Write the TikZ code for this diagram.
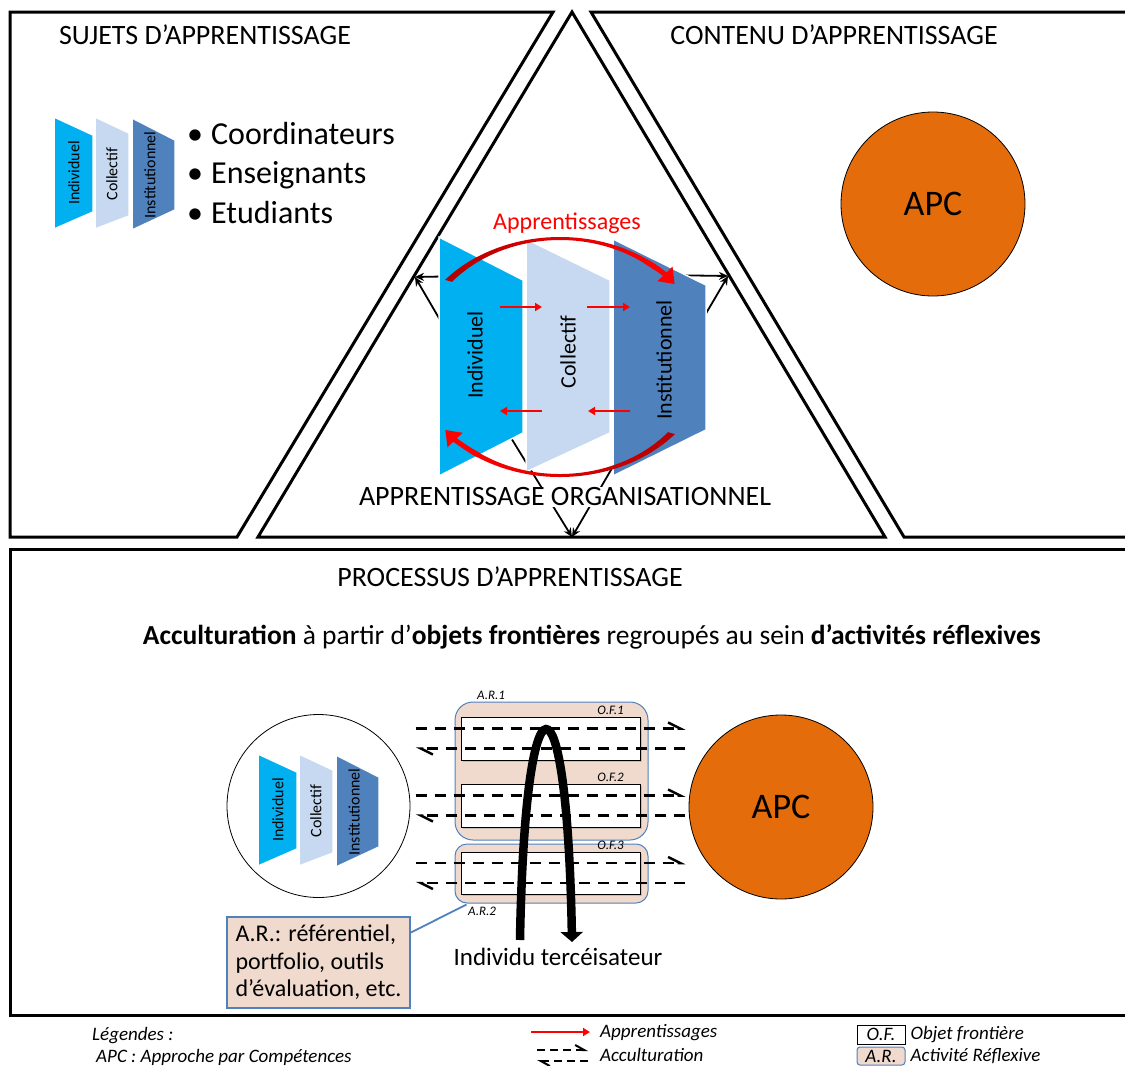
\documentclass[tikz,border=0pt]{standalone}
\usepackage{fontspec}
\setmainfont{Carlito}
\usetikzlibrary{arrows.meta, positioning, calc, shadows}

\definecolor{indivblue}{RGB}{0,176,240}
\definecolor{collblue}{RGB}{198,217,241}
\definecolor{instblue}{RGB}{79,129,189}
\definecolor{apcorange}{RGB}{228,108,10}
\definecolor{arpeach}{RGB}{240,217,205}

\begin{document}
\begin{tikzpicture}[x=1pt, y=-1pt,
    every node/.style={inner sep=1pt},
    panelframe/.style={draw, line width=3pt, line join=miter},
    heading/.style={font=\fontsize{28}{32}\selectfont},
    apc/.style={circle, draw, line width=0.8pt, fill=apcorange, minimum size=184pt,
                font=\fontsize{36}{40}\selectfont},
    tpz/.style={draw=white, line width=1.5pt},
    lvl/.style={rotate=90, font=\fontsize{22}{24}\selectfont},
    lvlsmall/.style={rotate=90, font=\fontsize{16}{18}\selectfont},
    link/.style={-{Stealth[length=9pt, width=8pt]}, line width=1.8pt},
    redarr/.style={red, line width=2pt, -{Triangle[length=7pt, width=8pt]}},
    accul/.style={line width=2.5pt, dash pattern=on 11pt off 8pt,
                  -{Straight Barb[harpoon, length=12pt, width=12pt]}},
    ofbox/.style={draw, fill=white, line width=0.8pt, minimum width=179pt,
                  drop shadow={shadow xshift=1.5pt, shadow yshift=-1.5pt, opacity=0.35}},
    arbox/.style={draw=instblue, line width=1pt, fill=arpeach},
    tag/.style={font=\fontsize{13}{15}\selectfont\itshape, inner sep=0.5pt},
    legendtxt/.style={font=\fontsize{19}{22}\selectfont\itshape, inner sep=0pt},
    levels/.pic={
      \path[tpz, fill=indivblue] (0,0) -- (39,18) -- (39,95) -- (0,112) -- cycle;
      \path[tpz, fill=collblue]  (41,0) -- (75,16) -- (75,99) -- (41,112) -- cycle;
      \path[tpz, fill=instblue]  (78,1) -- (121,23) -- (121,93) -- (78,113) -- cycle;
      \node[lvlsmall] (-ind)  at (20,56) {Individuel};
      \node[lvlsmall] (-coll) at (58,57) {Collectif};
      \node[lvlsmall] (-inst) at (96,58) {Institutionnel};
    }
]
\useasboundingbox (0,0) rectangle (1125,1066);

% frames
\begin{scope}
\clip (0,0) rectangle (1125,1066);
\draw[panelframe] (10,12) -- (553,12) -- (237,537) -- (10,537) -- cycle;
\draw[panelframe] (572,12) -- (885,537) -- (258,537) -- cycle;
\draw[panelframe] (1140,12) -- (591,12) -- (904,537) -- (1140,537);
\draw[panelframe] (1140,549) -- (10,549) -- (10,1015) -- (1140,1015);
\end{scope}

% top left: subjects
\node[heading] (sujT) at (205,35) {SUJETS D’APPRENTISSAGE};
\pic (topLv) at (54,117) {levels};
\node[anchor=west, align=left, font=\fontsize{32}{39.5}\selectfont] (roles) at (186,173)
    {\textbullet\hspace{8pt}Coordinateurs\\\textbullet\hspace{8pt}Enseignants\\\textbullet\hspace{8pt}Etudiants};

% top right: content
\node[heading] (contT) at (834,35) {CONTENU D’APPRENTISSAGE};
\node[apc] (apcT) at (933,204) {APC};

% centre: organisational learning
\coordinate (tL) at (415,277);
\coordinate (tR) at (728,276);
\coordinate (tB) at (572,537);
\draw[link] (470,276) -- (tL);
\draw[link] (457,349) -- (tL);
\draw[link] (660,275) -- (tR);
\draw[link] (691,339) -- (tR);
\draw[link] (500,420) -- (tB);
\draw[link] (640,420) -- (tB);

\path[tpz, fill=indivblue] (439,237) -- (523,280) -- (523,433) -- (439,476) -- cycle;
\path[tpz, fill=collblue]  (526,239) -- (610,280) -- (610,433) -- (526,472) -- cycle;
\path[tpz, fill=instblue]  (613,239) -- (706,285) -- (706,430) -- (613,476) -- cycle;
\node[lvl] (indA)  at (475,355) {Individuel};
\node[lvl] (collA) at (568,352) {Collectif};
\node[lvl] (instA) at (664,360) {Institutionnel};

\draw[redarr] (500,307) -- (542,307);
\draw[redarr] (587,307) -- (630,307);
\draw[redarr] (542,411) -- (500,411);
\draw[redarr] (630,411) -- (588,411);

\shade[left color=red!70!black, right color=red]
    ($(560,357)+(220:150 and 120)$) arc[start angle=220, end angle=312, x radius=150, y radius=120]
    -- ($(560,357)+(312:141 and 117)$) arc[start angle=312, end angle=220, x radius=141, y radius=117] -- cycle;
\draw[red, line width=5pt, -{Triangle[length=14pt, width=20pt]}]
    ($(560,357)+(306:145.5 and 118.5)$) arc[start angle=306, end angle=322, x radius=145.5, y radius=118.5];
\shade[left color=red, right color=red!70!black]
    ($(560,357)+(40:150 and 120)$) arc[start angle=40, end angle=128, x radius=150, y radius=120]
    -- ($(560,357)+(128:141 and 117)$) arc[start angle=128, end angle=40, x radius=141, y radius=117] -- cycle;
\draw[red, line width=5pt, -{Triangle[length=14pt, width=20pt]}]
    ($(560,357)+(124:145.5 and 118.5)$) arc[start angle=124, end angle=142, x radius=145.5, y radius=118.5];
\node[red, font=\fontsize{24}{28}\selectfont] (apprA) at (567,223) {Apprentissages};
\node[heading, fill=white] (orgA) at (565,497) {APPRENTISSAGE ORGANISATIONNEL};

% bottom: learning process
\node[heading] (procT) at (510,577) {PROCESSUS D’APPRENTISSAGE};
\node[font=\fontsize{27.5}{32}\selectfont] (accT) at (592,637)
    {\textbf{Acculturation} à partir d’\textbf{objets frontières} regroupés au sein \textbf{d’activités réflexives}};

\node[circle, draw, line width=0.8pt, minimum size=183pt] (sujB) at (318.5,806) {};
\pic (botLv) at (258,754) {levels};
\node[apc] (apcB) at (781,807) {APC};

\node[arbox, rounded corners=18pt, minimum width=193pt, minimum height=138pt] (ar1) at (551.5,771) {};
\node[arbox, rounded corners=12pt, minimum width=193pt, minimum height=59pt] (ar2) at (551.5,873.5) {};
\node[ofbox, minimum height=43pt] (of1) at (550.5,738.5) {};
\node[ofbox, minimum height=43pt] (of2) at (550.5,805.5) {};
\node[ofbox, minimum height=42pt] (of3) at (550.5,873) {};

\node[tag, anchor=south west] (tar1) at ([shift={(22,-1)}]ar1.north west) {A.R.1};
\node[tag, anchor=north west] (tar2) at ([shift={(13,3)}]ar2.south west) {A.R.2};
\foreach \i in {1,2,3} {
  \node[tag, anchor=south east] (tof\i) at ([shift={(-16,-1)}]of\i.north east) {O.F.\i};
  \draw[accul] ([shift={(-45,-10)}]of\i.west) -- ([shift={(45,-10)}]of\i.east);
  \draw[accul] ([shift={(45,10)}]of\i.east) -- ([shift={(-45,10)}]of\i.west);
}

\coordinate (arcL) at (520,940);
\coordinate (arcR) at (572,942);
\draw[line width=8.5pt, -{Triangle[length=10pt, width=22pt]}] (arcL) .. controls (525,660) and (567,660) .. (arcR);
\node[font=\fontsize{25}{30}\selectfont] (terc) at (558,957) {Individu tercéisateur};

\node[arbox, line width=1.8pt, align=left, font=\fontsize{24}{27.5}\selectfont,
      minimum width=183pt, minimum height=91pt, inner xsep=8pt] (arnote) at (318.5,962.5)
    {A.R.: référentiel,\\portfolio, outils\\d’évaluation, etc.};
\draw[instblue, line width=1.8pt] ([shift={(0,-30)}]arnote.east) -- ([shift={(12,1)}]ar2.south west);

% legend
\node[legendtxt, anchor=west] (lgT) at (92,1036) {Légendes :};
\node[legendtxt, anchor=west] (lgApc) at (96,1057) {APC : Approche par Compétences};
\node[legendtxt, anchor=west] (lgApp) at (600,1033) {Apprentissages};
\draw[redarr] ([shift={(-69,-1)}]lgApp.west) -- ([shift={(-10,-1)}]lgApp.west);
\node[legendtxt, anchor=west] (lgAcc) at (600,1055) {Acculturation};
\draw[accul, line width=2pt, dash pattern=on 8pt off 5pt, -{Straight Barb[harpoon, length=9pt, width=10pt]}]
    ([shift={(-63,-5)}]lgAcc.west) -- ([shift={(-12,-5)}]lgAcc.west);
\draw[accul, line width=2pt, dash pattern=on 8pt off 5pt, -{Straight Barb[harpoon, length=9pt, width=10pt]}]
    ([shift={(-12,6)}]lgAcc.west) -- ([shift={(-63,6)}]lgAcc.west);
\node[legendtxt, draw, line width=0.8pt, minimum width=48pt, minimum height=19pt] (lgOFbox) at (881,1034.5) {O.F.};
\node[legendtxt, right=5pt of lgOFbox] (lgOF) {Objet frontière};
\node[legendtxt, arbox, rounded corners=3pt, minimum width=48pt, minimum height=18pt] (lgARbox) at (881,1056) {A.R.};
\node[legendtxt, right=5pt of lgARbox] (lgAR) {Activité Réflexive};
\end{tikzpicture}
\end{document}
